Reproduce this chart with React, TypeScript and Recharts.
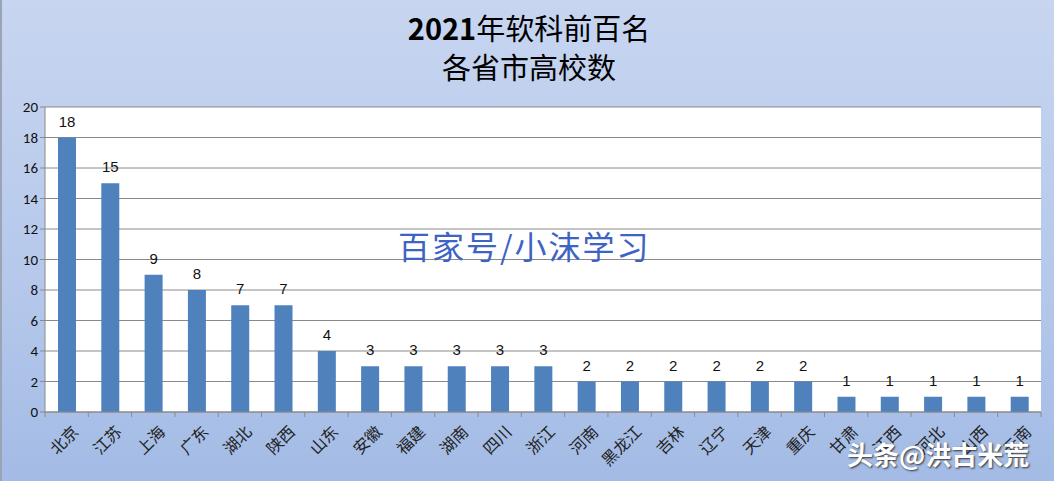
import React from 'react';
import { BarChart, Bar, XAxis, YAxis, CartesianGrid, LabelList } from 'recharts';

const provinces = ['北京', '江苏', '上海', '广东', '湖北', '陕西', '山东', '安徽', '福建', '湖南', '四川', '浙江', '河南', '黑龙江', '吉林', '辽宁', '天津', '重庆', '甘肃', '江西', '河北', '山西', '云南'];
const counts = [18, 15, 9, 8, 7, 7, 4, 3, 3, 3, 3, 3, 2, 2, 2, 2, 2, 2, 1, 1, 1, 1, 1];
const yTicks = [0, 2, 4, 6, 8, 10, 12, 14, 16, 18, 20];
const titleLine1Num = '2021';
const titleLine1Rest = '年软科前百名';
const titleLine2 = '各省市高校数';

const data = provinces.map((p, i) => ({ name: p, value: counts[i] }));

const CHART_W = 1054;
const PLOT_LEFT = 45;
const PLOT_RIGHT_MARGIN = 13;
const BAND = (CHART_W - PLOT_LEFT - PLOT_RIGHT_MARGIN) / provinces.length;

const XTick = (props: any) => {
  const { x, y, payload, index } = props;
  const isLast = index === provinces.length - 1;
  return (
    <g>
      <line x1={x - BAND / 2} x2={x - BAND / 2} y1={y - 8} y2={y - 3} stroke="#8a8a8a" />
      {isLast && (
        <line x1={x + BAND / 2} x2={x + BAND / 2} y1={y - 8} y2={y - 3} stroke="#8a8a8a" />
      )}
      <g transform={`translate(${x + 8},${y + 8})`}>
        <text
          transform="rotate(-45)"
          textAnchor="end"
          dominantBaseline="central"
          fontSize={16}
          fontFamily="'Noto Sans CJK SC', sans-serif"
          fill="#222"
        >
          {payload.value}
        </text>
      </g>
    </g>
  );
};

export default function App() {
  return (
    <div
      style={{
        position: 'absolute',
        left: 0,
        top: 0,
        width: 1054,
        height: 481,
        background: 'linear-gradient(to bottom, #c7d5f0 0%, #b5c8eb 60%, #a3bbe5 100%)',
        borderLeft: '2px solid #9aa4b4',
        boxSizing: 'border-box',
        overflow: 'hidden',
        fontFamily: "'Noto Sans CJK SC', sans-serif",
      }}
    >
      <div
        style={{
          position: 'absolute',
          left: 0,
          width: 1054,
          top: 8,
          textAlign: 'center',
          fontSize: 29,
          lineHeight: '39px',
          color: '#000',
          fontFamily: "'Noto Sans CJK SC', sans-serif",
        }}
      >
        <div>
          <span style={{ fontWeight: 700 }}>{titleLine1Num}</span>
          <span>{titleLine1Rest}</span>
        </div>
        <div>{titleLine2}</div>
      </div>
      <div style={{ position: 'absolute', left: -2, top: 0 }}>
        <BarChart
          width={CHART_W}
          height={481}
          data={data}
          margin={{ top: 107, right: PLOT_RIGHT_MARGIN, bottom: 0, left: 0 }}
        >
          <CartesianGrid vertical={false} stroke="#8a8a8a" fill="#ffffff" />
          <XAxis
            dataKey="name"
            interval={0}
            height={69}
            tick={<XTick />}
            tickLine={false}
            axisLine={{ stroke: '#8a8a8a' }}
          />
          <YAxis
            width={PLOT_LEFT}
            domain={[0, 20]}
            ticks={yTicks}
            interval={0}
            tick={{ fontSize: 15, fill: '#111', fontFamily: "Calibri, 'Liberation Sans', sans-serif" }}
            tickLine={{ stroke: '#8a8a8a' }}
            tickSize={5}
            axisLine={{ stroke: '#8a8a8a' }}
          />
          <Bar dataKey="value" fill="#4f81bd" barSize={18} isAnimationActive={false}>
            <LabelList
              dataKey="value"
              position="top"
              offset={11}
              fontSize={15}
              fill="#111"
              fontFamily="'Liberation Sans', sans-serif"
            />
          </Bar>
        </BarChart>
      </div>
      <div
        style={{
          position: 'absolute',
          left: 396,
          top: 222,
          fontSize: 32,
          color: '#3d63c4',
          fontFamily: "'Noto Sans CJK SC', serif",
          letterSpacing: 2,
        }}
      >
        百家号/小沫学习
      </div>
      <div
        style={{
          position: 'absolute',
          left: 845,
          top: 437,
          fontSize: 26,
          lineHeight: '34px',
          color: '#ffffff',
          fontWeight: 700,
          textShadow: '1px 1px 2px #333',
          fontFamily: "'Noto Sans CJK SC', sans-serif",
        }}
      >
        头条@洪古米荒
      </div>
    </div>
  );
}
